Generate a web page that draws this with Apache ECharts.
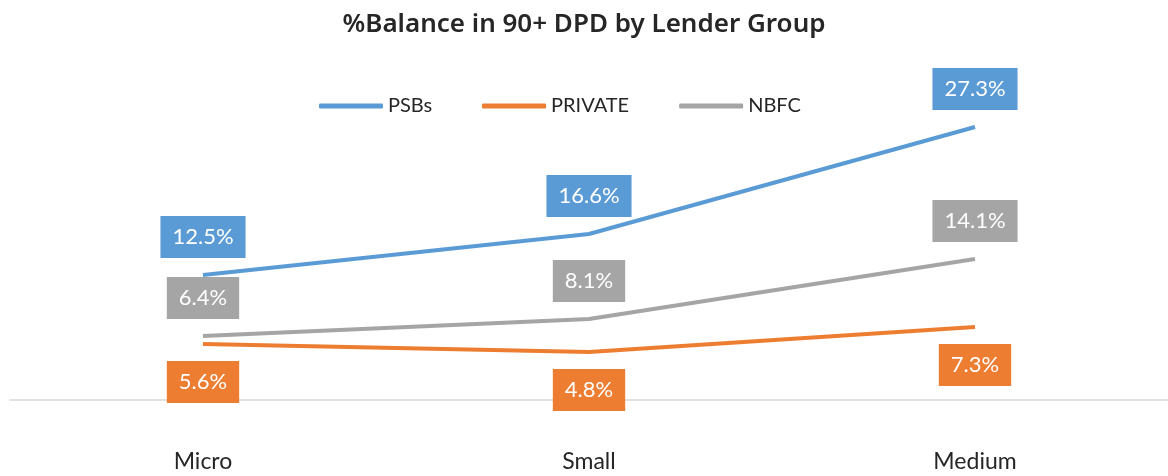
<!DOCTYPE html>
<html>
<head>
<meta charset="utf-8">
<script src="https://cdn.jsdelivr.net/npm/echarts@6/dist/echarts.min.js"></script>
<style>
  html, body { margin: 0; padding: 0; background: #fff; }
  #chart { width: 1168px; height: 476px; }
</style>
</head>
<body>
<div id="chart"></div>
<script>
  var categories = ['Micro', 'Small', 'Medium']
  var psbs = [12.5, 16.6, 27.3]
  var privateBanks = [5.6, 4.8, 7.3]
  var nbfc = [6.4, 8.1, 14.1]

  var chart = echarts.init(document.getElementById('chart'))

  function makeLabel(color, pos) {
    return {
      show: true,
      position: pos,
      distance: 17,
      color: '#fff',
      fontFamily: 'Lato',
      fontSize: 22,
      backgroundColor: color,
      padding: [10, 12, 10, 12],
      formatter: function (p) {
        return p.value.toFixed(1) + '%'
      }
    }
  }

  function makeSeries(name, data, color, pos) {
    return {
      name: name,
      type: 'line',
      data: data,
      showSymbol: true,
      symbol: 'circle',
      symbolSize: 0.1,
      lineStyle: { color: color, width: 4 },
      itemStyle: { color: color },
      label: makeLabel(color, pos),
      emphasis: { disabled: true }
    }
  }

  var option = {
    animation: false,
    title: {
      text: '%Balance in 90+ DPD by Lender Group',
      left: 'center',
      top: 7,
      textStyle: {
        color: '#262626',
        fontFamily: 'Noto Sans',
        fontWeight: 600,
        fontSize: 26
      }
    },
    legend: {
      top: 91,
      left: 314,
      itemWidth: 64,
      itemHeight: 5,
      itemGap: 50,
      icon: 'roundRect',
      textStyle: {
        color: '#262626',
        fontFamily: 'Lato',
        fontSize: 20
      },
      data: ['PSBs', 'PRIVATE', 'NBFC']
    },
    grid: {
      left: 10,
      right: 0,
      top: 100,
      bottom: 76,
      containLabel: false
    },
    xAxis: {
      type: 'category',
      data: categories,
      boundaryGap: true,
      axisLine: { lineStyle: { color: '#d9d9d9', width: 1.5 } },
      axisTick: { show: false },
      axisLabel: {
        margin: 50,
        color: '#262626',
        fontFamily: 'Lato',
        fontSize: 23
      }
    },
    yAxis: {
      type: 'value',
      min: 0,
      max: 30,
      show: false,
      splitLine: { show: false }
    },
    series: [
      makeSeries('PSBs', psbs, '#5b9bd5', 'top'),
      makeSeries('PRIVATE', privateBanks, '#ed7d31', 'bottom'),
      makeSeries('NBFC', nbfc, '#a5a5a5', 'top')
    ]
  }

  chart.setOption(option)
</script>
</body>
</html>
